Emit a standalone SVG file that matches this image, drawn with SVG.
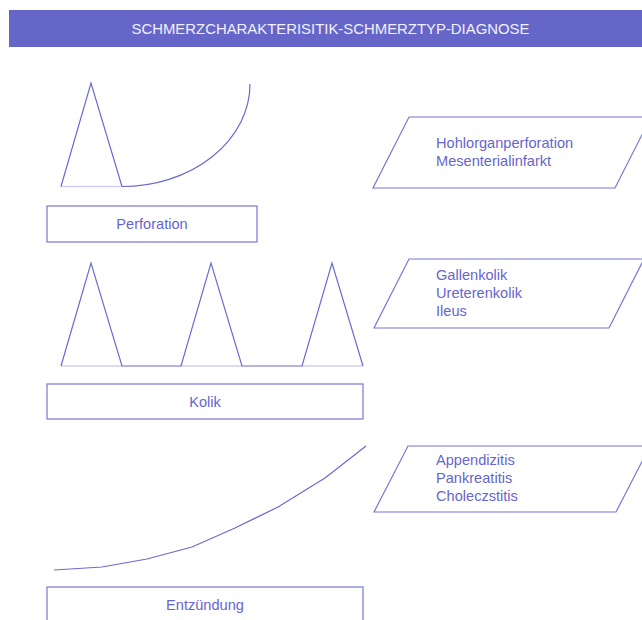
<svg xmlns="http://www.w3.org/2000/svg" width="642" height="620" viewBox="0 0 642 620">
<style>
.ln{fill:none;stroke:#6a6ad0;stroke-width:1.2}
.bl{fill:none;stroke:#d0d0ee;stroke-width:1.5}
.box{fill:#fff;stroke:#7777d4;stroke-width:1.2}
.t{font-family:"Liberation Sans",Arial,sans-serif;font-size:14.6px;fill:#6666cc}
.h{font-family:"Liberation Sans",Arial,sans-serif;font-size:14.9px;fill:#f0f0ff}
</style>
<rect width="642" height="620" fill="#fff"/>
<g id="header">
<rect x="9" y="10" width="640" height="37" fill="#6666c8"/>
<text class="h" x="330.5" y="33.5" text-anchor="middle">SCHMERZCHARAKTERISITIK-SCHMERZTYP-DIAGNOSE</text>
</g>
<g id="connectors">
<path class="bl" d="M61,186.5H122"/>
<path class="ln" d="M61,186.5L91,83L122,186.5"/>
<path class="ln" d="M122,186.5A128,102.5 0 0 0 250,84"/>
<path class="bl" d="M61,366H122M181,366H242M302,366H363"/>
<path class="ln" d="M61,366L91,263L122,366H181L211,263L242,366H302L332,263L363,366"/>
<polyline class="ln" points="54,570 102,567 147,559 192,547 235,528 278,507 325,478 366,446"/>
</g>
<g id="perforation">
<rect class="box" x="47" y="206" width="210" height="36"/>
<text class="t" x="152" y="228.5" text-anchor="middle">Perforation</text>
</g>
<g id="kolik">
<rect class="box" x="47" y="384" width="316" height="35"/>
<text class="t" x="205" y="406.5" text-anchor="middle">Kolik</text>
</g>
<g id="entzuendung">
<rect class="box" x="47" y="587" width="316" height="38"/>
<text class="t" x="205" y="610" text-anchor="middle">Entzündung</text>
</g>
<g id="diag1">
<polygon class="box" points="409,117 651,117 615,188 373,188"/>
<text class="t" x="436" y="148">Hohlorganperforation</text>
<text class="t" x="436" y="166">Mesenterialinfarkt</text>
</g>
<g id="diag2">
<polygon class="box" points="409,259 644,259 609,328 374,328"/>
<text class="t" x="436" y="280">Gallenkolik</text>
<text class="t" x="436" y="298">Ureterenkolik</text>
<text class="t" x="436" y="316">Ileus</text>
</g>
<g id="diag3">
<polygon class="box" points="408,446 650,446 616,512 374,512"/>
<text class="t" x="436" y="465">Appendizitis</text>
<text class="t" x="436" y="483">Pankreatitis</text>
<text class="t" x="436" y="501">Choleczstitis</text>
</g>
</svg>
